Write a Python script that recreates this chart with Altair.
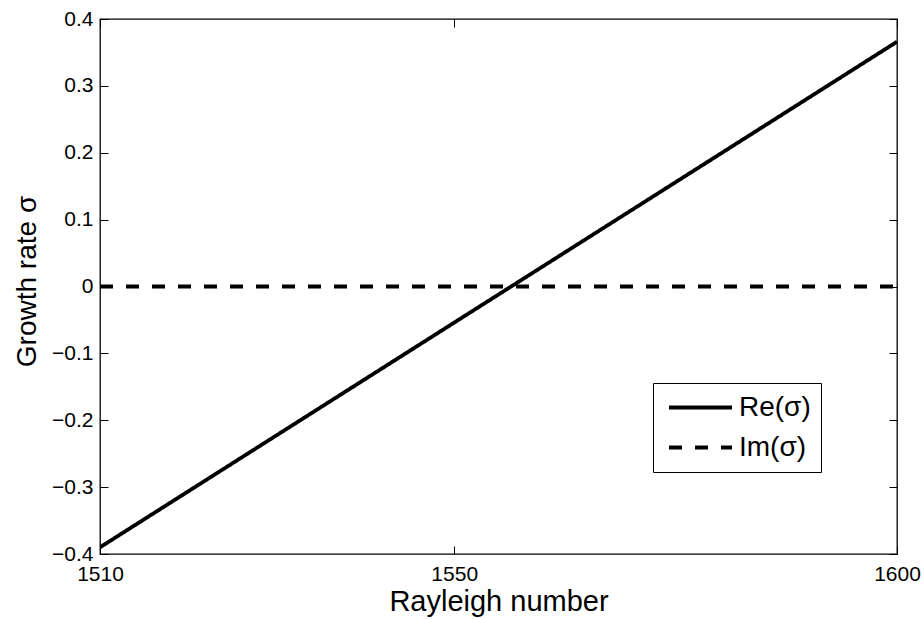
import altair as alt
import pandas as pd

# Data
rayleigh = [1510, 1600]
re_sigma = [-0.39, 0.366]
im_sigma = [0.0, 0.0]
series_names = ["Re(σ)", "Im(σ)"]
x_ticks = [1510, 1550, 1600]
y_ticks = [-0.4, -0.3, -0.2, -0.1, 0.0, 0.1, 0.2, 0.3, 0.4]

df = pd.DataFrame({
    "Ra": rayleigh + rayleigh,
    "sigma": re_sigma + im_sigma,
    "series": [series_names[0]] * 2 + [series_names[1]] * 2,
})

FONT = "Liberation Sans"
xscale = alt.Scale(domain=[1510, 1600], nice=False, zero=False)
yscale = alt.Scale(domain=[-0.4, 0.4], nice=False, zero=False)

TICK = 8
LW = 3.8

main = alt.Chart(df).mark_line(strokeWidth=LW, color="black", clip=True).encode(
    x=alt.X("Ra:Q", scale=xscale,
            axis=alt.Axis(values=x_ticks, ticks=False, domain=False, grid=False,
                          labelFontSize=21, labelFont=FONT, labelColor="black",
                          labelPadding=9, format="d", labelFlush=False,
                          labelOverlap=False,
                          title="Rayleigh number", titleFontSize=29, titleFont=FONT,
                          titleFontWeight="normal", titleColor="black",
                          titleBaseline="alphabetic", titleY=56)),
    y=alt.Y("sigma:Q", scale=yscale,
            axis=alt.Axis(values=y_ticks, ticks=False, domain=False, grid=False,
                          labelFontSize=21, labelFont=FONT, labelColor="black",
                          labelPadding=7, labelFlush=False, labelOverlap=False,
                          labelExpr="datum.value == 0 ? '0' : format(datum.value, '.1f')",
                          title="Growth rate σ", titleFontSize=28, titleFont=FONT,
                          titleFontWeight="normal", titleColor="black",
                          titleBaseline="alphabetic", titleX=-65, titleY=262)),
    strokeDash=alt.StrokeDash(
        "series:N",
        scale=alt.Scale(domain=series_names, range=[[1, 0], [13, 13]]),
        sort=series_names,
        legend=alt.Legend(title=None, orient="none", legendX=553, legendY=364,
                          strokeColor="black", fillColor="white", padding=9.5,
                          labelFontSize=28, labelFont=FONT, labelColor="black",
                          symbolType="stroke", symbolSize=3969, symbolStrokeWidth=LW,
                          symbolStrokeColor="black", symbolOffset=4.5, labelOffset=5,
                          clipHeight=30, rowPadding=10, labelLimit=300, cornerRadius=0),
    ),
)

ticks_bl = alt.Chart(df).mark_line(opacity=0).encode(
    x=alt.X("Ra:Q", scale=xscale, axis=alt.Axis(orient="bottom", values=x_ticks, ticks=True,
            tickSize=TICK, tickColor="black", offset=-TICK, labels=False, domain=False,
            grid=False, title=None)),
    y=alt.Y("sigma:Q", scale=yscale, axis=alt.Axis(orient="left", values=y_ticks, ticks=True,
            tickSize=TICK, tickColor="black", offset=-TICK, labels=False, domain=False,
            grid=False, title=None)),
)

ticks_tr = alt.Chart(df).mark_line(opacity=0).encode(
    x=alt.X("Ra:Q", scale=xscale, axis=alt.Axis(orient="top", values=x_ticks, ticks=True,
            tickSize=TICK, tickColor="black", offset=-TICK, labels=False, domain=False,
            grid=False, title=None)),
    y=alt.Y("sigma:Q", scale=yscale, axis=alt.Axis(orient="right", values=y_ticks, ticks=True,
            tickSize=TICK, tickColor="black", offset=-TICK, labels=False, domain=False,
            grid=False, title=None)),
)

chart = alt.layer(main, ticks_bl, ticks_tr).resolve_axis(
    x="independent", y="independent"
).properties(
    width=797, height=535,
    autosize=alt.AutoSizeParams(type="none"),
    padding={"left": 100, "top": 19, "right": 27, "bottom": 65},
    background="white",
).configure_view(stroke="black", strokeWidth=1.3)

chart.save("out.html", embed_options={"renderer": "svg", "actions": False})
